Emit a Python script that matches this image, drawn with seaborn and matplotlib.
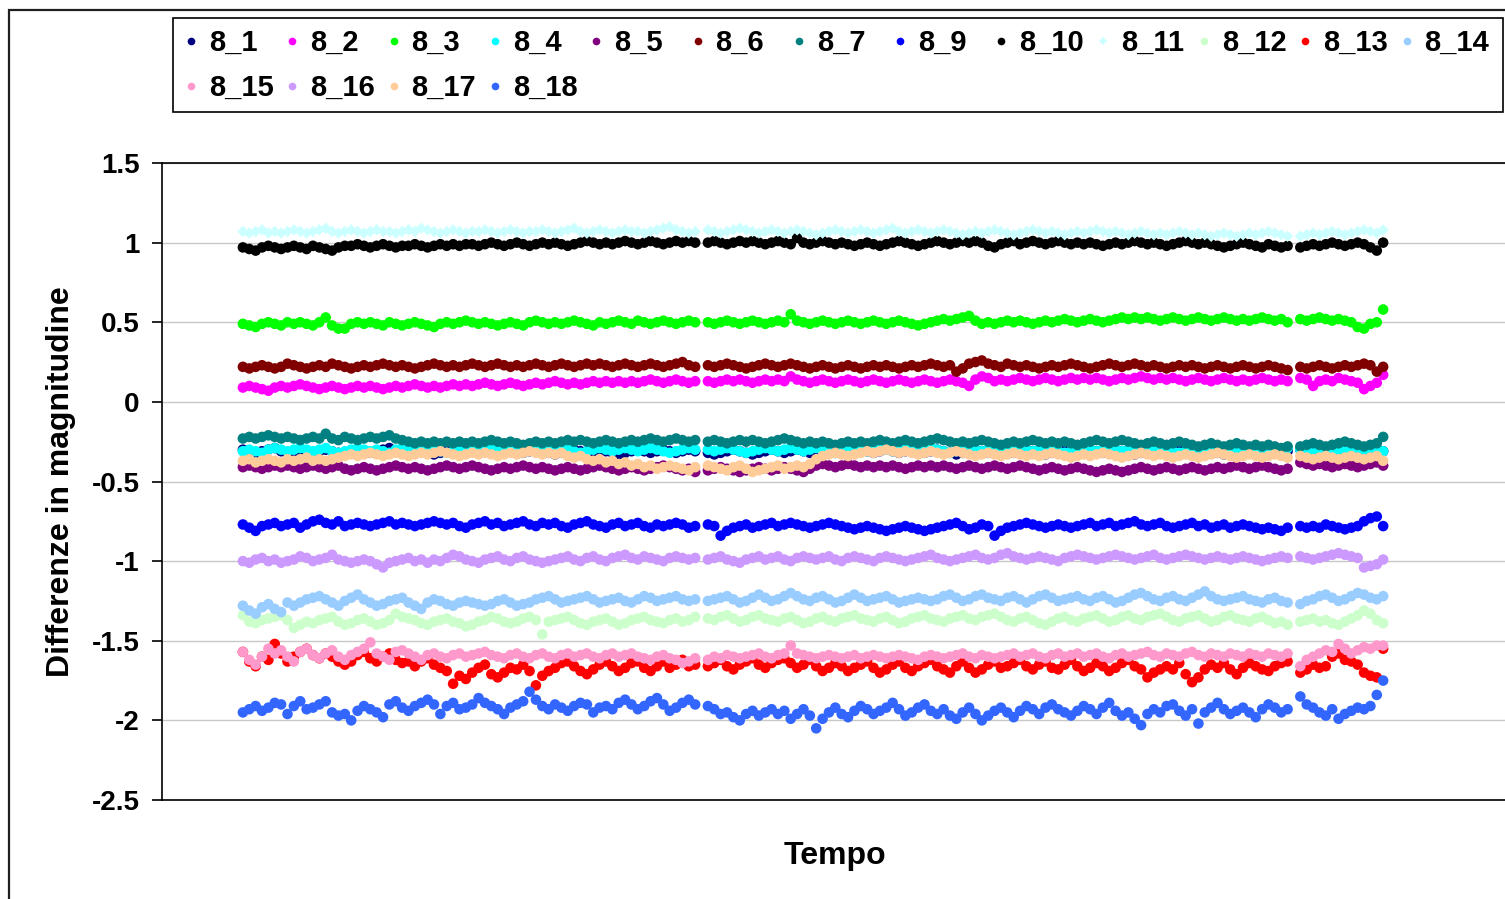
import numpy as np
import matplotlib
matplotlib.use("Agg")
import matplotlib.pyplot as plt
import seaborn as sns
from matplotlib.lines import Line2D
from matplotlib.patches import Rectangle

# ---------------- data (hundredths of magnitude) ----------------
series_names = ["8_1", "8_2", "8_3", "8_4", "8_5", "8_6", "8_7", "8_9", "8_10",
                "8_11", "8_12", "8_13", "8_14", "8_15", "8_16", "8_17", "8_18"]

s8_1 = [-30,-31,-32,-31,-30,-29,-31,-32,-31,-30,-31,-32,
        -31,-30,-31,-32,-33,-31,-30,-31,-32,-31,-30,-29,
        -31,-32,-31,-30,-31,-32,-33,-32,-31,-30,-31,-32,
        -31,-30,-31,-32,-31,-30,-29,-31,-32,-31,-30,-31,
        -32,-33,-32,-31,-30,-31,-32,-31,-30,-31,-32,-33,
        -32,-31,-30,-31,-32,-31,-30,-31,-32,-31,-30,-31,
        -32,-33,-32,-31,-30,-31,-32,-33,-32,-31,-30,-31,
        -32,-31,-30,-31,-32,-31,-30,-31,-32,-31,-30,-29,
        -30,-31,-32,-31,-30,-31,-32,-31,-30,-31,-32,-31,
        -30,-31,-32,-33,-32,-31,-30,-31,-32,-31,-30,-31,
        -32,-31,-30,-31,-32,-33,-32,-31,-30,-31,-32,-31,
        -30,-31,-32,-31,-30,-31,-32,-33,-32,-31,-30,-31,
        -32,-31,-30,-31,-32,-31,-30,-31,-32,-33,-32,-31,
        -30,-31,-32,-31,-30,-31,-32,-31,
        -30,-31,-32,-31,-30,-31,-32,-31,-30,-31,-32,-31,-30,-31]

s8_2 = [9,10,9,8,7,9,10,9,10,11,10,9,
        8,9,10,9,8,9,10,9,10,9,8,9,
        10,9,10,11,10,9,10,9,10,11,10,11,
        10,11,12,11,10,11,12,11,10,11,12,11,
        12,13,12,11,12,11,12,13,12,13,12,13,
        12,13,12,13,14,13,12,13,14,13,12,13,
        13,12,13,14,13,14,13,12,13,14,13,14,
        13,16,14,13,12,13,14,13,12,13,14,13,
        12,13,14,13,12,13,14,13,12,13,14,13,
        12,13,14,13,12,10,14,16,15,13,14,13,
        14,15,14,13,14,15,14,13,14,15,14,15,
        14,15,14,13,14,15,14,15,16,15,14,15,
        14,15,14,13,14,15,14,13,14,15,14,13,
        14,13,14,15,14,13,14,13,
        15,14,10,13,14,13,15,14,13,12,8,10,12,17]

s8_3 = [49,48,47,49,50,49,48,50,49,50,49,48,
        50,53,48,46,46,49,50,49,50,49,48,50,
        49,48,49,50,49,48,47,49,50,49,50,51,
        50,49,50,49,48,49,50,49,48,50,51,50,
        49,50,49,50,51,50,49,48,50,49,50,51,
        50,49,51,50,49,50,51,50,49,50,51,50,
        50,49,50,51,50,49,50,51,50,49,50,51,
        50,55,51,50,49,50,51,50,49,50,51,50,
        49,50,51,50,49,50,51,50,49,48,49,50,
        51,52,51,52,53,54,51,49,50,49,50,51,
        50,51,50,49,50,51,50,51,52,51,50,51,
        52,51,50,51,52,53,52,53,52,53,52,51,
        52,53,52,51,52,53,52,51,52,53,52,51,
        52,51,52,53,52,51,52,50,
        52,51,52,53,52,51,52,51,50,47,46,49,50,58]

s8_4 = [-31,-30,-31,-32,-30,-29,-30,-31,-30,-29,-30,-31,
        -30,-29,-31,-32,-31,-30,-29,-30,-31,-30,-31,-32,
        -30,-29,-30,-31,-30,-29,-30,-31,-32,-31,-30,-29,
        -30,-31,-30,-29,-31,-30,-29,-30,-31,-30,-29,-30,
        -31,-30,-29,-30,-31,-32,-31,-30,-29,-30,-31,-30,
        -29,-30,-31,-30,-29,-30,-31,-32,-31,-30,-29,-30,
        -30,-31,-30,-29,-30,-31,-32,-31,-30,-29,-30,-31,
        -30,-29,-30,-31,-30,-29,-30,-31,-32,-31,-30,-29,
        -30,-31,-30,-29,-30,-31,-30,-29,-30,-31,-30,-29,
        -30,-31,-32,-31,-30,-29,-30,-31,-30,-29,-30,-31,
        -30,-29,-30,-31,-30,-29,-30,-31,-32,-31,-30,-29,
        -30,-31,-30,-29,-30,-31,-30,-29,-30,-31,-30,-29,
        -30,-31,-32,-31,-30,-31,-30,-29,-30,-31,-30,-29,
        -30,-31,-30,-29,-30,-31,-30,-29,
        -30,-31,-30,-29,-30,-31,-30,-29,-30,-31,-30,-29,-30,-31]

s8_5 = [-41,-40,-41,-42,-41,-40,-41,-40,-41,-42,-41,-40,
        -41,-42,-41,-40,-42,-43,-42,-41,-42,-43,-42,-41,
        -40,-41,-42,-41,-42,-43,-42,-41,-40,-41,-42,-41,
        -40,-41,-42,-43,-42,-41,-42,-41,-40,-41,-42,-41,
        -42,-43,-42,-41,-42,-43,-42,-41,-40,-41,-42,-43,
        -42,-41,-42,-43,-42,-41,-40,-41,-42,-43,-42,-44,
        -43,-42,-41,-42,-43,-44,-43,-42,-41,-42,-43,-42,
        -41,-42,-43,-44,-42,-40,-39,-40,-41,-40,-39,-40,
        -41,-40,-41,-40,-41,-40,-41,-42,-41,-40,-41,-40,
        -41,-40,-41,-42,-41,-40,-41,-42,-41,-40,-41,-42,
        -41,-40,-41,-42,-43,-42,-41,-42,-43,-42,-41,-42,
        -43,-44,-43,-42,-43,-44,-43,-42,-41,-42,-43,-42,
        -41,-42,-43,-42,-41,-42,-43,-42,-41,-42,-41,-40,
        -41,-42,-41,-40,-41,-42,-43,-42,
        -38,-39,-40,-39,-40,-41,-40,-39,-40,-41,-40,-39,-38,-40]

s8_6 = [22,21,22,23,22,21,22,24,23,22,21,22,
        23,22,24,23,22,21,22,23,22,23,24,23,
        22,23,22,21,22,23,24,23,22,23,22,23,
        24,23,22,23,24,23,22,23,22,23,24,23,
        22,23,24,23,22,23,24,23,24,23,22,23,
        24,23,22,23,24,23,22,23,24,25,23,22,
        23,22,23,24,23,22,21,22,23,24,23,22,
        23,24,23,22,21,22,23,22,21,22,23,22,
        21,22,23,22,23,22,21,22,23,22,23,24,
        23,22,23,19,21,24,25,26,24,23,22,24,
        23,22,23,22,21,22,23,22,23,24,23,22,
        21,22,23,24,23,22,23,24,23,22,23,22,
        21,22,23,22,23,22,21,22,23,22,21,22,
        23,22,21,22,23,22,21,20,
        22,21,22,23,22,21,22,23,22,23,24,23,19,22]

s8_7 = [-23,-22,-23,-22,-21,-22,-23,-22,-23,-24,-23,-22,
        -23,-20,-23,-24,-22,-23,-24,-23,-22,-23,-22,-21,
        -23,-24,-25,-26,-25,-26,-25,-26,-25,-26,-25,-26,
        -25,-26,-25,-24,-25,-26,-25,-26,-27,-26,-25,-26,
        -25,-26,-25,-24,-25,-24,-25,-26,-25,-24,-25,-26,
        -25,-24,-25,-24,-23,-24,-25,-24,-23,-24,-25,-24,
        -25,-24,-25,-26,-25,-24,-25,-24,-25,-26,-25,-24,
        -23,-24,-25,-26,-25,-26,-25,-26,-27,-26,-25,-26,
        -25,-26,-25,-24,-25,-26,-25,-24,-25,-26,-25,-24,
        -23,-24,-25,-26,-25,-26,-25,-24,-25,-26,-27,-26,
        -25,-26,-25,-24,-25,-26,-25,-26,-25,-26,-27,-26,
        -25,-24,-25,-26,-25,-24,-25,-26,-27,-26,-25,-26,
        -27,-26,-25,-26,-27,-28,-27,-26,-27,-28,-27,-26,
        -27,-28,-27,-28,-27,-28,-29,-28,
        -28,-27,-26,-27,-28,-27,-26,-25,-26,-27,-28,-27,-26,-22]

s8_9 = [-77,-79,-81,-78,-77,-76,-78,-77,-76,-79,-77,-75,
        -74,-76,-77,-75,-78,-77,-76,-77,-78,-77,-76,-75,
        -77,-76,-77,-78,-77,-76,-75,-76,-77,-76,-78,-79,
        -77,-76,-75,-77,-76,-78,-77,-76,-75,-77,-78,-76,
        -77,-76,-78,-79,-77,-76,-75,-77,-78,-79,-77,-76,
        -78,-77,-76,-78,-79,-77,-78,-77,-76,-77,-79,-78,
        -77,-78,-84,-81,-79,-78,-77,-79,-78,-77,-76,-78,
        -77,-76,-77,-78,-79,-78,-77,-76,-77,-78,-79,-80,
        -79,-78,-79,-80,-81,-80,-79,-78,-79,-80,-81,-80,
        -79,-78,-77,-76,-78,-80,-79,-77,-78,-84,-81,-79,
        -78,-77,-76,-77,-78,-79,-78,-77,-78,-79,-78,-77,
        -76,-78,-77,-76,-78,-77,-76,-75,-77,-78,-77,-76,
        -78,-79,-78,-77,-76,-78,-77,-79,-78,-77,-79,-78,
        -77,-78,-79,-80,-79,-80,-81,-79,
        -78,-79,-78,-79,-77,-78,-79,-80,-79,-78,-75,-73,-72,-78]

s8_10 = [97,96,95,97,98,97,96,97,98,97,96,98,
         97,96,95,97,98,98,99,98,97,98,99,98,
         97,98,98,99,98,97,98,99,98,99,98,99,
         99,98,99,100,99,98,99,100,99,98,99,100,
         99,100,99,98,99,100,101,100,99,100,99,100,
         101,100,99,100,101,100,99,100,101,100,101,100,
         100,101,100,99,100,101,100,101,100,99,100,101,
         100,99,103,100,99,100,101,100,99,100,99,98,
         99,100,99,98,99,100,101,100,99,98,99,100,
         101,100,99,100,101,100,101,100,98,97,99,100,
         101,99,100,101,100,99,100,101,100,99,100,99,
         100,99,98,99,100,99,100,101,100,99,100,99,
         98,99,100,101,100,99,100,99,98,97,98,99,
         100,99,98,97,99,98,97,98,
         97,98,99,98,99,100,99,98,99,100,99,97,95,100]

s8_11 = [107,106,107,108,106,107,106,107,108,107,106,107,
         108,109,107,106,107,108,107,106,107,108,107,107,
         106,107,108,107,109,108,107,106,107,108,107,106,
         107,107,108,107,106,107,108,107,106,107,107,108,
         107,106,107,108,109,107,106,107,108,107,106,107,
         108,107,107,106,107,108,109,110,108,107,106,107,
         108,107,106,107,108,109,108,107,106,107,108,107,
         106,107,108,107,106,105,106,107,108,107,106,107,
         108,107,106,107,108,109,107,106,107,108,107,106,
         107,108,107,106,105,106,107,106,107,108,107,106,
         105,106,107,108,107,106,107,106,105,106,107,106,
         107,108,107,106,107,106,105,106,107,106,105,106,
         105,106,107,106,105,106,105,104,105,106,105,104,
         105,106,105,106,107,106,105,104,
         104,105,106,105,106,107,106,105,106,107,108,107,106,108]

s8_12 = [-134,-138,-139,-137,-136,-135,-134,-137,-142,-140,-138,-139,
         -137,-136,-135,-138,-140,-139,-137,-136,-138,-140,-139,-137,
         -133,-135,-136,-137,-139,-140,-138,-137,-136,-138,-139,-141,
         -140,-138,-137,-135,-136,-138,-139,-138,-136,-135,-137,-146,
         -138,-137,-136,-135,-137,-139,-140,-138,-137,-136,-138,-140,
         -139,-137,-136,-135,-137,-138,-139,-137,-136,-138,-137,-135,
         -136,-137,-135,-134,-136,-138,-137,-135,-134,-136,-137,-138,
         -136,-135,-137,-139,-138,-136,-135,-137,-138,-136,-135,-134,
         -136,-137,-138,-136,-135,-137,-139,-138,-136,-135,-134,-136,
         -137,-138,-136,-135,-134,-136,-137,-135,-134,-133,-135,-137,
         -138,-136,-135,-137,-139,-140,-138,-136,-135,-137,-138,-136,
         -135,-134,-136,-138,-137,-135,-134,-136,-137,-135,-134,-133,
         -135,-137,-138,-136,-135,-134,-136,-138,-137,-135,-134,-136,
         -137,-138,-136,-135,-137,-139,-138,-140,
         -138,-137,-136,-138,-137,-139,-140,-138,-136,-134,-131,-133,-137,-139]

s8_13 = [-157,-163,-166,-160,-162,-152,-158,-163,-160,-157,-155,-159,
         -161,-158,-160,-163,-165,-163,-159,-157,-161,-163,-160,-158,
         -162,-164,-163,-166,-163,-161,-165,-167,-169,-177,-172,-174,
         -170,-167,-165,-171,-173,-170,-167,-168,-165,-169,-178,-172,
         -169,-167,-164,-163,-166,-169,-171,-168,-165,-163,-166,-169,
         -167,-164,-163,-167,-169,-166,-163,-167,-165,-162,-166,-165,
         -166,-164,-162,-166,-168,-165,-163,-161,-165,-167,-164,-162,
         -161,-164,-167,-165,-162,-166,-169,-167,-164,-166,-169,-167,
         -165,-163,-167,-170,-168,-165,-163,-167,-169,-166,-164,-162,
         -166,-168,-170,-166,-163,-167,-170,-168,-165,-163,-167,-166,
         -164,-162,-166,-168,-165,-163,-167,-168,-165,-162,-166,-169,
         -167,-164,-166,-169,-167,-164,-162,-166,-168,-173,-170,-168,
         -166,-168,-164,-171,-176,-173,-168,-165,-167,-164,-168,-171,
         -167,-164,-166,-168,-169,-166,-164,-163,
         -170,-168,-165,-167,-166,-160,-158,-162,-163,-165,-170,-172,-173,-155]

s8_14 = [-128,-131,-133,-129,-127,-130,-132,-126,-128,-126,-124,-123,
         -122,-124,-126,-128,-125,-123,-121,-124,-126,-128,-127,-125,
         -124,-123,-126,-128,-130,-126,-124,-125,-127,-128,-126,-125,
         -126,-127,-128,-127,-125,-124,-126,-128,-127,-126,-124,-123,
         -122,-124,-126,-125,-124,-123,-122,-124,-126,-125,-124,-123,
         -125,-126,-124,-122,-123,-125,-124,-123,-122,-124,-125,-124,
         -125,-124,-123,-122,-124,-126,-125,-123,-121,-123,-125,-124,
         -122,-120,-122,-124,-125,-123,-122,-124,-126,-125,-123,-121,
         -123,-125,-124,-123,-122,-124,-126,-125,-124,-123,-124,-125,
         -124,-122,-121,-123,-125,-124,-122,-121,-123,-124,-125,-123,
         -122,-124,-126,-124,-122,-121,-123,-125,-124,-123,-122,-124,
         -125,-123,-122,-124,-126,-125,-123,-121,-120,-122,-124,-125,
         -123,-122,-124,-125,-123,-121,-119,-122,-124,-125,-124,-123,
         -122,-124,-125,-126,-124,-123,-125,-126,
         -127,-125,-124,-122,-121,-123,-125,-124,-122,-120,-121,-123,-124,-122]

s8_15 = [-157,-162,-165,-160,-155,-158,-156,-160,-163,-157,-155,-159,
         -161,-158,-156,-160,-162,-159,-157,-155,-151,-158,-160,-162,
         -157,-156,-158,-160,-162,-159,-158,-160,-161,-159,-158,-160,
         -159,-158,-157,-159,-160,-161,-159,-158,-160,-161,-159,-158,
         -160,-161,-159,-158,-160,-159,-158,-160,-161,-159,-158,-160,
         -159,-158,-160,-161,-162,-160,-159,-161,-162,-164,-163,-161,
         -162,-160,-161,-159,-160,-161,-160,-159,-158,-160,-161,-159,
         -158,-153,-158,-159,-160,-161,-160,-159,-160,-161,-160,-159,
         -161,-160,-159,-160,-161,-160,-159,-160,-161,-162,-160,-159,
         -160,-161,-160,-159,-158,-160,-161,-159,-160,-161,-160,-159,
         -158,-160,-159,-158,-160,-161,-159,-158,-160,-159,-158,-160,
         -159,-158,-160,-161,-159,-158,-160,-159,-158,-157,-159,-160,
         -158,-159,-160,-158,-157,-159,-160,-158,-159,-160,-158,-159,
         -160,-158,-159,-160,-158,-159,-160,-158,
         -166,-162,-160,-158,-156,-157,-152,-155,-158,-156,-154,-155,-153,-153]

s8_16 = [-100,-101,-99,-98,-100,-99,-101,-100,-99,-97,-98,-100,
         -99,-98,-96,-99,-100,-101,-100,-99,-100,-102,-104,-101,
         -100,-99,-98,-100,-99,-101,-99,-100,-98,-96,-97,-99,
         -100,-101,-99,-98,-97,-99,-100,-98,-97,-99,-100,-101,
         -100,-99,-98,-97,-99,-100,-98,-97,-99,-100,-98,-97,
         -96,-98,-99,-97,-98,-99,-100,-98,-97,-98,-99,-98,
         -99,-98,-97,-99,-100,-101,-99,-98,-97,-99,-98,-97,
         -99,-100,-98,-97,-98,-99,-98,-97,-99,-100,-98,-97,
         -98,-99,-100,-98,-97,-98,-99,-100,-99,-98,-97,-96,
         -98,-99,-100,-99,-98,-97,-96,-98,-99,-98,-96,-95,
         -97,-98,-99,-98,-97,-98,-99,-100,-98,-97,-96,-97,
         -98,-99,-98,-97,-96,-97,-98,-99,-98,-97,-96,-98,
         -99,-98,-97,-96,-97,-98,-99,-98,-97,-98,-99,-98,
         -97,-98,-99,-100,-99,-98,-97,-98,
         -97,-98,-99,-98,-97,-96,-95,-96,-97,-98,-104,-103,-102,-99]

s8_17 = [-37,-36,-38,-37,-36,-37,-38,-36,-37,-36,-35,-37,
         -36,-37,-36,-35,-34,-33,-34,-33,-32,-33,-34,-33,
         -32,-33,-34,-33,-32,-33,-32,-31,-32,-33,-34,-33,
         -32,-33,-32,-33,-34,-33,-32,-33,-32,-31,-32,-33,
         -32,-33,-32,-34,-35,-34,-36,-37,-36,-38,-37,-39,
         -38,-40,-39,-41,-40,-42,-41,-40,-41,-42,-43,-41,
         -40,-41,-42,-43,-41,-40,-42,-44,-43,-42,-41,-40,
         -42,-41,-40,-41,-39,-36,-34,-33,-32,-33,-34,-33,
         -32,-31,-32,-31,-30,-31,-32,-31,-32,-33,-32,-31,
         -32,-33,-32,-31,-32,-33,-34,-33,-32,-33,-34,-33,
         -32,-33,-34,-33,-34,-33,-32,-33,-34,-35,-34,-33,
         -34,-33,-32,-33,-34,-35,-34,-33,-32,-33,-34,-33,
         -34,-35,-34,-33,-34,-35,-34,-33,-32,-33,-34,-35,
         -34,-33,-34,-35,-34,-33,-34,-35,
         -34,-35,-36,-35,-34,-35,-36,-35,-34,-35,-36,-35,-34,-37]

s8_18 = [-195,-193,-191,-194,-192,-189,-190,-196,-191,-188,-193,-192,
         -190,-188,-195,-197,-196,-200,-194,-191,-193,-195,-198,-190,
         -188,-192,-194,-191,-189,-187,-190,-196,-191,-189,-193,-192,
         -190,-186,-189,-191,-193,-196,-192,-190,-188,-182,-187,-191,
         -193,-190,-192,-194,-191,-189,-190,-195,-192,-191,-193,-189,
         -187,-190,-193,-191,-188,-186,-190,-194,-192,-189,-187,-190,
         -191,-193,-196,-195,-198,-200,-196,-194,-197,-195,-193,-196,
         -194,-199,-196,-193,-197,-205,-199,-195,-192,-196,-198,-194,
         -191,-193,-196,-194,-192,-189,-193,-197,-195,-192,-190,-194,
         -196,-193,-197,-199,-195,-192,-196,-200,-197,-194,-192,-195,
         -198,-194,-191,-193,-196,-192,-190,-193,-195,-197,-194,-191,
         -193,-196,-192,-189,-194,-197,-195,-199,-203,-196,-193,-195,
         -191,-190,-194,-197,-193,-202,-195,-192,-189,-193,-196,-194,
         -192,-195,-198,-193,-190,-192,-195,-193,
         -185,-190,-192,-195,-197,-193,-199,-196,-194,-192,-193,-191,-184,-175]

series_values = [s8_1, s8_2, s8_3, s8_4, s8_5, s8_6, s8_7, s8_9, s8_10,
                 s8_11, s8_12, s8_13, s8_14, s8_15, s8_16, s8_17, s8_18]

series_colors = ["#000080", "#FF00FF", "#00FF00", "#00FFFF", "#800080", "#800000",
                 "#008080", "#0000FF", "#000000", "#CCFFFF", "#CCFFCC", "#FF0000",
                 "#99CCFF", "#FF99CC", "#CC99FF", "#FFCC99", "#3366FF"]
series_markers = ["o"] * 9 + ["D"] + ["o"] * 7

ytick_values = [-2.5, -2, -1.5, -1, -0.5, 0, 0.5, 1, 1.5]
ytick_labels = ["-2.5", "-2", "-1.5", "-1", "-0.5", "0", "0.5", "1", "1.5"]


def tempo_for(n):
    # observation index along the time axis; two short interruptions in the run
    i = np.arange(n)
    return i + (i >= 72) + (i >= 164)


# ---------------- figure ----------------
sns.set_theme(style="white")
plt.rcParams['font.family'] = ['Liberation Sans', 'DejaVu Sans']
plt.rcParams['font.weight'] = 'bold'
for key in ["text.color", "axes.labelcolor", "xtick.color", "ytick.color"]:
    plt.rcParams[key] = "black"

W, H = 1505, 899
fig = plt.figure(figsize=(W / 100, H / 100), dpi=100)
fig.patch.set_facecolor("white")

# chart-area border (extends past the cropped right/bottom edges)
fig.patches.append(Rectangle((9 / W, -0.2), 1.5, 1.2 - 10 / H,
                             transform=fig.transFigure, fill=False,
                             edgecolor="#202020", lw=1.6, zorder=0))

ax = fig.add_axes([162 / W, (H - 800) / H, (1508 - 162) / W, (800 - 163) / H])
ax.set_facecolor("white")

for name, vals, col, mk in zip(series_names, series_values, series_colors, series_markers):
    y = np.asarray(vals, dtype=float) / 100.0
    x = tempo_for(len(y))
    sns.scatterplot(x=x, y=y, color=col, marker=mk, s=34 if mk == "D" else 58,
                    linewidth=0, edgecolor="none", ax=ax, legend=False, zorder=3)

ax.set_xlim(-12.7, 198.6)
ax.set_ylim(-2.5, 1.5)
ax.set_xticks([])
ax.set_yticks(ytick_values)
ax.set_yticklabels(ytick_labels, fontsize=20, fontweight="bold", color="black")
ax.tick_params(axis="y", direction="out", length=7, width=1.2, pad=9, color="black", left=True)
ax.yaxis.grid(True, color="#c8c8c8", lw=1)
ax.xaxis.grid(False)
ax.set_axisbelow(True)
for side in ["left", "top", "bottom"]:
    ax.spines[side].set_visible(True)
    ax.spines[side].set_color("black")
    ax.spines[side].set_linewidth(1.2)
ax.spines["right"].set_visible(False)

ax.set_ylabel("Differenze in magnitudine", fontsize=23, fontweight="bold", color="black")
ax.yaxis.set_label_coords(-0.064, 0.5)
ax.set_xlabel("Tempo", fontsize=23, fontweight="bold", color="black")
ax.xaxis.set_label_coords(0.5, -0.064)

# ---------------- legend ----------------
fig.patches.append(Rectangle((173 / W, 1 - 112 / H), (1503 - 173) / W, (112 - 18) / H,
                             transform=fig.transFigure, fill=False,
                             edgecolor="black", lw=1.2, zorder=1))
fs_leg = 21
fs_px = fs_leg * 100 / 72
hl = 0.55
for k, (name, col, mk) in enumerate(zip(series_names, series_colors, series_markers)):
    row, colidx = divmod(k, 13)
    cx = 191 + 101.3 * colidx
    cy = 43 + 45 * row
    handle = Line2D([], [], linestyle="none", marker=mk, color=col,
                    markersize=4 if mk == "D" else 5.5, markeredgewidth=0)
    x_left = cx - hl * fs_px / 2
    leg = fig.legend(handles=[handle], labels=[name], loc="center left",
                     bbox_to_anchor=(x_left / W, 1 - cy / H), bbox_transform=fig.transFigure,
                     frameon=False, borderpad=0, borderaxespad=0, handlelength=hl,
                     handletextpad=(18 - hl * fs_px / 2) / fs_px,
                     prop={"size": fs_leg, "weight": "bold"})
    for t in leg.get_texts():
        t.set_color("black")

fig.savefig("out.png", dpi=100, facecolor="white")
